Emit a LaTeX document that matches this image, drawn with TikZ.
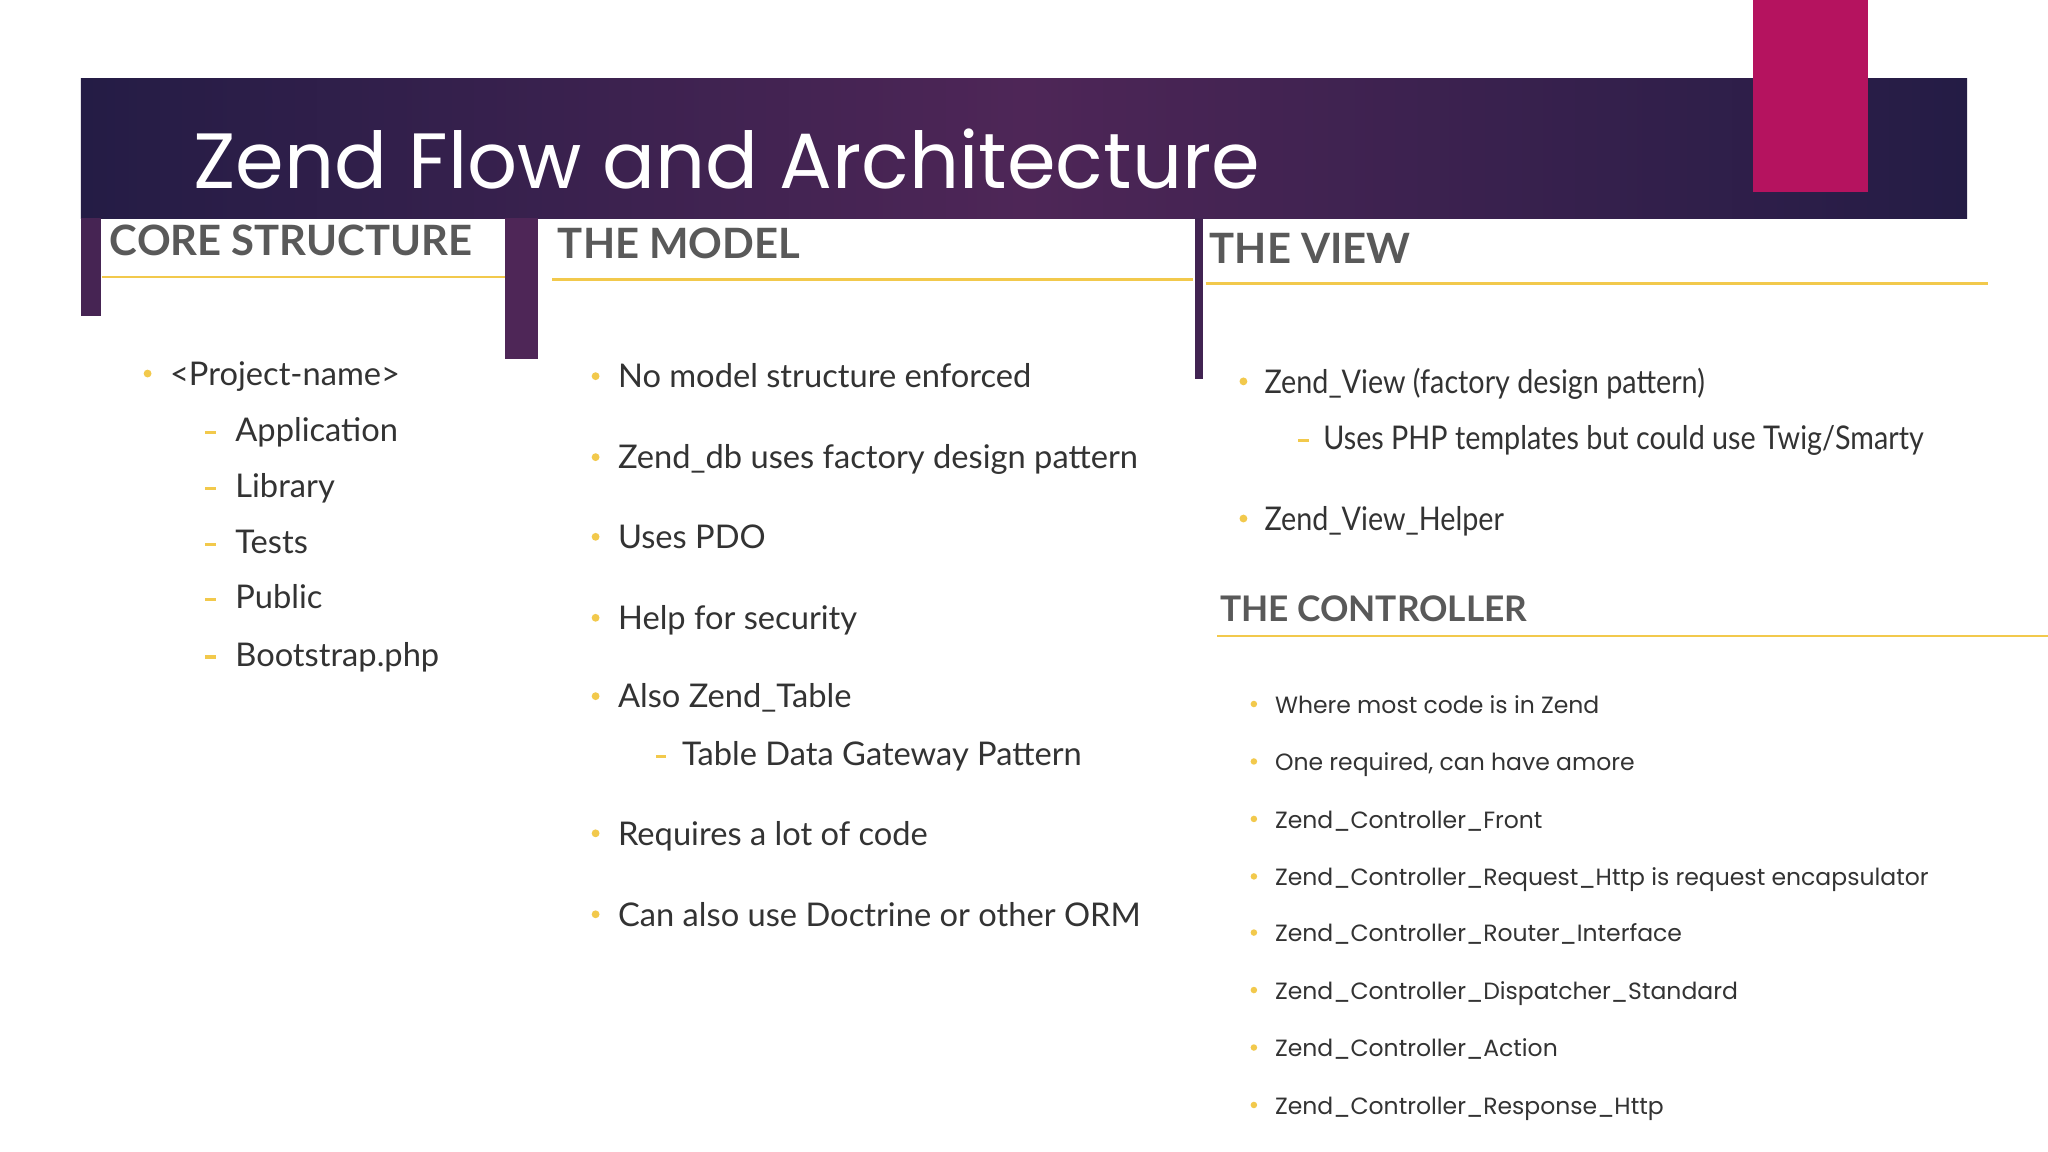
\documentclass[tikz,border=0pt]{standalone}
\usepackage{fontspec}
\setmainfont{Lato}
\newfontfamily\titlefont{Poppins}
\newfontfamily\hdfont{Lato}
\usetikzlibrary{shadings}
\definecolor{bandA}{HTML}{241C45}
\definecolor{bandB}{HTML}{4E2657}
\definecolor{mag}{HTML}{B5135F}
\definecolor{yel}{HTML}{F2C94C}
\definecolor{txt}{HTML}{333333}
\definecolor{hd}{HTML}{595959}
\begin{document}
\begin{tikzpicture}[x=1pt,y=-1pt,
  hdr/.style={anchor=base west,inner sep=0pt,font=\hdfont\bfseries\fontsize{32}{36}\selectfont,text=hd},
  itm/.style={anchor=base west,inner sep=0pt,font=\fontsize{25}{30}\selectfont,text=txt},
  citm/.style={anchor=base west,inner sep=0pt,font=\titlefont\fontsize{18}{22}\selectfont,text=txt},
  bul/.style={circle,fill=yel,inner sep=0pt,minimum size=6pt},
  dsh/.style={fill=yel,inner sep=0pt,minimum width=8pt,minimum height=2.5pt},
  yl/.style={draw=yel,line width=2pt}]
\useasboundingbox (0,0) rectangle (1568,882);
\fill[white] (0,0) rectangle (1568,882);
% banner
\shade[left color=bandA,right color=bandA,middle color=bandB] (62,60) rectangle (1506,167);
\fill[bandB!80!bandA] (62,167) rectangle (77,242);
\fill[bandB] (387,167) rectangle (412,275);
\fill[bandB!70!bandA] (915,167) rectangle (921,290);
\fill[mag] (1342,0) rectangle (1430,147);
\node[anchor=base west,inner sep=0pt,text=white,font=\titlefont\fontsize{60}{66}\selectfont] (title) at (148,144) {Zend Flow and Architecture};
% headers
\node[hdr] (h1) at (84,196) {CORE STRUCTURE};
\node[hdr] (h2) at (427,198) {THE MODEL};
\node[hdr] (h3) at (926,202) {THE VIEW};
\node[hdr,font=\hdfont\bfseries\fontsize{27}{30}\selectfont] (h4) at (934,476) {THE CONTROLLER};
\draw[yl] (78,212) -- (387,212);
\draw[yl] (423,214) -- (913,214);
\draw[yl] (923,217) -- (1522,217);
\draw[yl] (932,487) -- (1568,487);
% core
\node[bul] (b0) at (113,286) {};
\node[itm] (c0) at (130,295) {<Project-name>};
\foreach \y/\t [count=\i] in {329/Application,372/Library,415/Tests,457/Public,501/Bootstrap.php}{
  \node[dsh] (cd\i) at (161,\y+2) {};
  \node[itm] (ct\i) at (180,\y+9) {\t};
}
% model
\foreach \y/\t [count=\i] in {288/No model structure enforced,350/Zend\_db uses factory design pattern,411/Uses PDO,473/Help for security,533/Also Zend\_Table,638/Requires a lot of code,700/Can also use Doctrine or other ORM}{
  \node[bul] (mb\i) at (456,\y) {};
  \node[itm] (mt\i) at (473,\y+9) {\t};
}
\node[dsh] (md) at (506,579) {};
\node[itm] (ms) at (522,586) {Table Data Gateway Pattern};
% view
\node[bul] (vb1) at (952,292) {};
\node[itm,font=\fontsize{25}{30}\selectfont] (vt1) at (968,301) {\addfontfeature{FakeStretch=0.88}Zend\_View (factory design pattern)};
\node[dsh] (vd) at (998,337) {};
\node[itm] (vs) at (1013,344) {\addfontfeature{FakeStretch=0.88}Uses PHP templates but could use Twig/Smarty};
\node[bul] (vb2) at (952,397) {};
\node[itm] (vt2) at (968,406) {\addfontfeature{FakeStretch=0.88}Zend\_View\_Helper};
% controller
\foreach \y/\t [count=\i] in {539/Where most code is in Zend,583/{One required, can have amore},627/Zend\_Controller\_Front,671/Zend\_Controller\_Request\_Http is request encapsulator,714/Zend\_Controller\_Router\_Interface,758/Zend\_Controller\_Dispatcher\_Standard,802/Zend\_Controller\_Action,846/Zend\_Controller\_Response\_Http}{
  \node[bul,minimum size=5pt] (kb\i) at (960,\y) {};
  \node[citm] (kt\i) at (976,\y+7) {\t};
}
\end{tikzpicture}
\end{document}
